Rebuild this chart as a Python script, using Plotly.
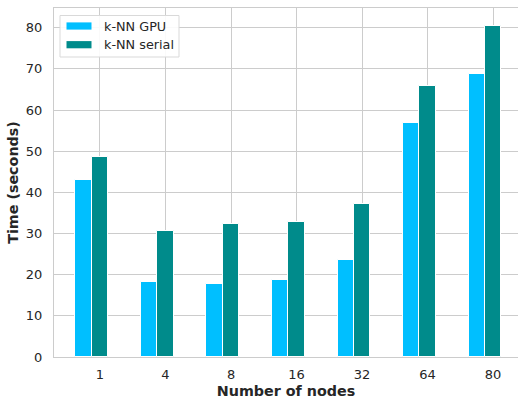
import plotly.graph_objects as go

# Run times per cluster size
nodes = ["1", "4", "8", "16", "32", "64", "80"]
gpu_times = [42.9, 18.2, 17.8, 18.7, 23.6, 56.8, 68.7]
serial_times = [48.6, 30.6, 32.2, 32.8, 37.2, 65.8, 80.5]

series_names = ["k-NN GPU", "k-NN serial"]
series_colors = ["#00BFFF", "#008B8B"]

W, H = 518, 399
ML, MR, MT, MB = 54, 0, 8, 42
PW, PH = W - ML - MR, H - MT - MB

positions = list(range(len(nodes)))
bar_w = 0.25

fig = go.Figure()
for name, vals, color, off in zip(series_names, [gpu_times, serial_times],
                                  series_colors, [-0.375, -0.125]):
    fig.add_trace(go.Bar(
        x=positions, y=vals, name=name, width=bar_w, offset=off,
        marker=dict(color=color, line=dict(color="white", width=1)),
        showlegend=False,
    ))


def px_x(p):
    return (p - ML) / PW


def px_y(p):
    return (H - MB - p) / PH


# Legend box with swatches and labels
shapes = [dict(
    type="rect", xref="paper", yref="paper",
    x0=px_x(60), x1=px_x(179), y0=px_y(57), y1=px_y(15.5),
    line=dict(color="#d9d9d9", width=1), fillcolor="rgba(255,255,255,0.9)",
    layer="above",
)]
annotations = []
for i, (name, color) in enumerate(zip(series_names, series_colors)):
    cy = 26 + 18.7 * i
    shapes.append(dict(
        type="rect", xref="paper", yref="paper",
        x0=px_x(66.5), x1=px_x(91.5), y0=px_y(cy + 3.6), y1=px_y(cy - 3.6),
        line=dict(width=0), fillcolor=color, layer="above",
    ))
    annotations.append(dict(
        xref="paper", yref="paper", x=px_x(101.5), y=px_y(cy),
        text=name, showarrow=False, xanchor="left", yanchor="middle",
        font=dict(size=12.8, color="#262626"),
    ))

fig.update_layout(
    width=W, height=H,
    margin=dict(l=ML, r=MR, t=MT, b=MB),
    paper_bgcolor="white", plot_bgcolor="white",
    font=dict(family="DejaVu Sans", size=13, color="#262626"),
    bargap=0, shapes=shapes, annotations=annotations,
)
fig.update_xaxes(
    range=[-0.702, 6.38], tickvals=positions, ticktext=nodes,
    showgrid=True, gridcolor="#cccccc", gridwidth=1,
    showline=True, linecolor="#cccccc", linewidth=1.25, mirror=True,
    zeroline=False, ticks="", ticklabelstandoff=5,
    title=dict(text="<b>Number of nodes</b>", font=dict(size=14.3), standoff=5),
)
fig.update_yaxes(
    range=[0, 84.8], tickvals=[0, 10, 20, 30, 40, 50, 60, 70, 80],
    showgrid=True, gridcolor="#cccccc", gridwidth=1,
    showline=True, linecolor="#cccccc", linewidth=1.25, mirror=True,
    zeroline=False, ticks="", ticklabelstandoff=8,
    title=dict(text="<b>Time (seconds)</b>", font=dict(size=14.3), standoff=3),
)

fig.write_html("out.html")
